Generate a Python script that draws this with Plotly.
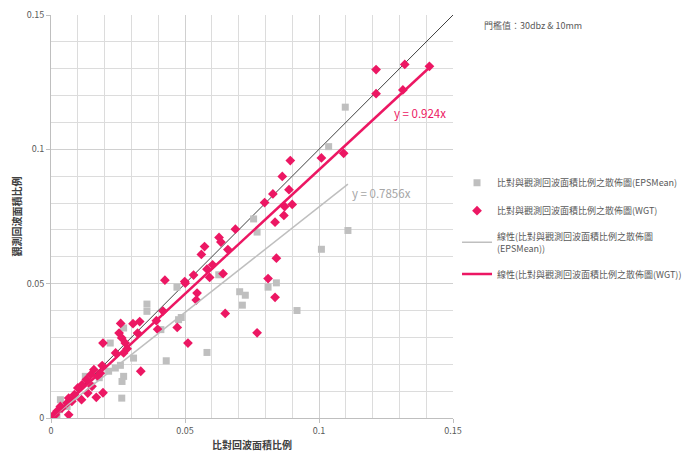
import plotly.graph_objects as go

# EPSMean scatter (x: 比對回波面積比例, y: 觀測回波面積比例)
eps_x = [0.1098, 0.1036, 0.1108, 0.1009, 0.0756, 0.0769, 0.0626, 0.0841, 0.0810, 0.0704,
         0.0725, 0.0714, 0.0918, 0.0486, 0.0476, 0.0582, 0.0430, 0.0358, 0.0358, 0.0410,
         0.0470, 0.0221, 0.0271, 0.0271, 0.0265, 0.0264, 0.0259, 0.0240, 0.0215, 0.0128,
         0.0035, 0.0022, 0.0010, 0.0031, 0.0060, 0.0308, 0.0180, 0.0150, 0.0090]
eps_y = [0.1157, 0.1010, 0.0698, 0.0628, 0.0741, 0.0692, 0.0533, 0.0503, 0.0487, 0.0470,
         0.0457, 0.0420, 0.0400, 0.0374, 0.0366, 0.0244, 0.0213, 0.0424, 0.0397, 0.0329,
         0.0487, 0.0279, 0.0335, 0.0155, 0.0136, 0.0074, 0.0196, 0.0186, 0.0174, 0.0155,
         0.0068, 0.0009, 0.0006, 0.0031, 0.0043, 0.0223, 0.0150, 0.0120, 0.0080]

# WGT scatter
wgt_x = [0.1213, 0.1320, 0.1412, 0.1213, 0.1313, 0.1092, 0.1009, 0.0893, 0.0863, 0.0888,
         0.0828, 0.0797, 0.0900, 0.0872, 0.0869, 0.0836, 0.0688, 0.0660, 0.0627, 0.0634,
         0.0573, 0.0561, 0.0603, 0.0582, 0.0592, 0.0642, 0.0532, 0.0499, 0.0501, 0.0425,
         0.0545, 0.0542, 0.0841, 0.0810, 0.0836, 0.0650, 0.0769, 0.0471, 0.0511, 0.0418,
         0.0393, 0.0398, 0.0331, 0.0306, 0.0323, 0.0260, 0.0254, 0.0264, 0.0277, 0.0284,
         0.0271, 0.0241, 0.0194, 0.0335, 0.0191, 0.0184, 0.0194, 0.0169, 0.0149, 0.0132,
         0.0116, 0.0100, 0.0114, 0.0137, 0.0087, 0.0066, 0.0060, 0.0041, 0.0022, 0.0016,
         0.0066, 0.0160, 0.0175, 0.0153, 0.0078, 0.0035, 0.0005]
wgt_y = [0.1297, 0.1316, 0.1309, 0.1207, 0.1221, 0.0985, 0.0968, 0.0958, 0.0899, 0.0850,
         0.0834, 0.0802, 0.0795, 0.0787, 0.0754, 0.0729, 0.0703, 0.0627, 0.0672, 0.0655,
         0.0638, 0.0609, 0.0570, 0.0554, 0.0523, 0.0537, 0.0532, 0.0508, 0.0502, 0.0513,
         0.0465, 0.0439, 0.0595, 0.0519, 0.0449, 0.0389, 0.0317, 0.0337, 0.0279, 0.0398,
         0.0362, 0.0330, 0.0359, 0.0351, 0.0316, 0.0352, 0.0316, 0.0298, 0.0279, 0.0258,
         0.0242, 0.0242, 0.0279, 0.0174, 0.0195, 0.0167, 0.0094, 0.0077, 0.0161, 0.0143,
         0.0124, 0.0112, 0.0068, 0.0093, 0.0087, 0.0074, 0.0056, 0.0037, 0.0025, 0.0012,
         0.0012, 0.0180, 0.0155, 0.0118, 0.0062, 0.0043, 0.0006]

eps_slope = 0.7856
wgt_slope = 0.924

tick_vals = [0, 0.05, 0.1, 0.15]
tick_text = ["0", "0.05", "0.1", "0.15"]

name_eps = "比對與觀測回波面積比例之散佈圖(EPSMean)"
name_wgt = "比對與觀測回波面積比例之散佈圖(WGT)"
name_eps_fit = "線性(比對與觀測回波面積比例之散佈圖<br>(EPSMean))"
name_wgt_fit = "線性(比對與觀測回波面積比例之散佈圖(WGT))"

PINK = "#EC1763"
GREY = "#BFBFBF"
FONT = "Noto Sans CJK TC"

fig = go.Figure()

# 1:1 reference line
fig.add_trace(go.Scatter(x=[0, 0.15], y=[0, 0.15], mode="lines",
                         line=dict(color="#404040", width=1), showlegend=False,
                         hoverinfo="skip"))

fig.add_trace(go.Scatter(x=eps_x, y=eps_y, mode="markers", name=name_eps,
                         legendgroup="a",
                         marker=dict(symbol="square", size=7, color=GREY)))
fig.add_trace(go.Scatter(x=wgt_x, y=wgt_y, mode="markers", name=name_wgt,
                         legendgroup="b",
                         marker=dict(symbol="diamond", size=7.5, color=PINK)))

ex = max(eps_x)
fig.add_trace(go.Scatter(x=[0, ex], y=[0, eps_slope * ex], mode="lines",
                         name=name_eps_fit, legendgroup="c",
                         line=dict(color=GREY, width=1.5)))
wx = max(wgt_x)
fig.add_trace(go.Scatter(x=[0, wx], y=[0, wgt_slope * wx], mode="lines",
                         name=name_wgt_fit, legendgroup="d",
                         line=dict(color=PINK, width=2.5)))

fig.add_annotation(x=0.1274, y=0.1135, xref="x", yref="y", text=f"y = {wgt_slope}x",
                   showarrow=False, xanchor="left", yanchor="middle",
                   font=dict(color=PINK, size=11.5, family=FONT))
fig.add_annotation(x=0.1117, y=0.0838, xref="x", yref="y", text=f"y = {eps_slope}x",
                   showarrow=False, xanchor="left", yanchor="middle",
                   font=dict(color="#A6A6A6", size=11.5, family=FONT))

fig.add_annotation(x=1.072, y=0.975, xref="paper", yref="paper",
                   text="門檻值：30dbz & 10mm", showarrow=False,
                   xanchor="left", yanchor="middle",
                   font=dict(color="#595959", size=9, family=FONT))

axis_common = dict(
    range=[0, 0.15], tickvals=tick_vals, ticktext=tick_text,
    showgrid=True, gridcolor="#D0D0D0", gridwidth=1,
    minor=dict(dtick=0.01, showgrid=True, gridcolor="#DCDCDC", gridwidth=1, ticks=""),
    ticks="outside", ticklen=4, tickcolor="#BFBFBF",
    showline=True, linecolor="#BFBFBF", linewidth=1,
    zeroline=False,
    tickfont=dict(size=9, color="#595959", family=FONT),
)

# page body has an 8px margin, so the figure is 686x444 to fill the 694x452 window
fig.update_layout(
    width=686, height=444,
    margin=dict(l=43, r=241, t=7, b=34, autoexpand=False),
    paper_bgcolor="white", plot_bgcolor="white",
    font=dict(family=FONT, color="#595959", size=9),
    xaxis=dict(**axis_common,
               title=dict(text="<b>比對回波面積比例</b>", standoff=6,
                          font=dict(size=10, color="#404040", family=FONT))),
    yaxis=dict(**axis_common,
               title=dict(text="<b>觀測回波面積比例</b>", standoff=3,
                          font=dict(size=10, color="#404040", family=FONT))),
    legend=dict(x=1.01, y=0.62, xanchor="left", yanchor="top",
                traceorder="grouped", tracegroupgap=9,
                font=dict(size=9, color="#595959", family=FONT),
                bgcolor="rgba(0,0,0,0)", itemwidth=30),
    showlegend=True,
)

fig.write_html("out.html")
